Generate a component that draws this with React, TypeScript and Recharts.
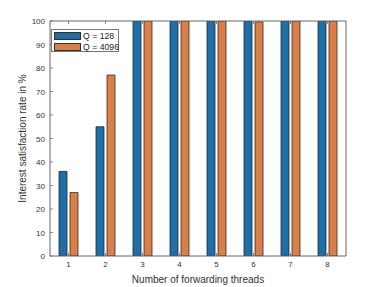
import { BarChart, Bar, XAxis, YAxis, Label } from 'recharts';

const threads = ['1', '2', '3', '4', '5', '6', '7', '8'];
const q128 = [36, 55, 100, 100, 100, 100, 100, 100];
const q4096 = [27, 77, 100, 100, 100, 99.6, 100, 100];
const yTicks = [0, 10, 20, 30, 40, 50, 60, 70, 80, 90, 100];
const seriesNames = ['Q = 128', 'Q = 4096'];

const BLUE = '#1f6fa6';
const ORANGE = '#d97f47';
const AXIS = '#666';
const FONT = '"Liberation Sans", Arial, sans-serif';

const data = threads.map((t, i) => ({ name: t, a: q128[i], b: q4096[i] }));

// ticks pointing into the plot, MATLAB style
const LeftTick = (props: any) => {
  const { x, y, payload } = props;
  return (
    <g>
      <line x1={x} y1={y} x2={x + 3} y2={y} stroke={AXIS} strokeWidth={0.8} />
      <text x={x - 5} y={y} dy={3} textAnchor="end" fontSize={8} fill="#333" fontFamily={FONT}>
        {payload.value}
      </text>
    </g>
  );
};

const RightTick = (props: any) => {
  const { x, y } = props;
  return <line x1={x - 3} y1={y} x2={x} y2={y} stroke={AXIS} strokeWidth={0.8} />;
};

const BottomTick = (props: any) => {
  const { x, y, payload } = props;
  return (
    <g>
      <line x1={x} y1={y} x2={x} y2={y - 3} stroke={AXIS} strokeWidth={0.8} />
      <text x={x} y={y + 11} textAnchor="middle" fontSize={8} fill="#333" fontFamily={FONT}>
        {payload.value}
      </text>
    </g>
  );
};

const TopTick = (props: any) => {
  const { x, y } = props;
  return <line x1={x} y1={y} x2={x} y2={y + 3} stroke={AXIS} strokeWidth={0.8} />;
};

const LegendBox = () => (
  <div
    style={{
      position: 'absolute',
      left: 51,
      top: 29,
      width: 68,
      height: 23,
      boxSizing: 'border-box',
      border: '1px solid #777',
      background: '#fff',
      padding: '1px 0 0 2px',
      fontFamily: FONT,
      fontSize: 8.7,
      color: '#222',
      lineHeight: '10.5px',
      whiteSpace: 'nowrap',
    }}
  >
    {seriesNames.map((n, i) => (
      <div key={n} style={{ display: 'flex', alignItems: 'center', height: 10.5 }}>
        <span
          style={{
            display: 'inline-block',
            flex: 'none',
            width: 27,
            height: 8,
            background: i === 0 ? BLUE : ORANGE,
            border: '1px solid #333',
            boxSizing: 'border-box',
            marginRight: 2,
          }}
        />
        <span>{n}</span>
      </div>
    ))}
  </div>
);

export default function App() {
  return (
    <div style={{ position: 'absolute', left: 0, top: 0, width: 382, height: 287, background: '#fff' }}>
      <BarChart
        width={382}
        height={287}
        data={data}
        margin={{ top: 20, right: 35, left: 0, bottom: 0 }}
        barSize={8}
        barGap={3}
      >
        <XAxis
          dataKey="name"
          height={31}
          tickLine={false}
          tickSize={0}
          tickMargin={0}
          tick={<BottomTick />}
          axisLine={{ stroke: AXIS }}
          interval={0}
        >
          <Label
            value="Number of forwarding threads"
            position="insideBottom"
            offset={4}
            style={{ fontSize: 10, fill: '#333', fontFamily: FONT }}
          />
        </XAxis>
        <XAxis
          xAxisId="top"
          dataKey="name"
          orientation="top"
          height={1}
          tickLine={false}
          tickSize={0}
          tickMargin={0}
          tick={<TopTick />}
          axisLine={{ stroke: AXIS }}
          interval={0}
        />
        <YAxis
          width={50}
          domain={[0, 100]}
          ticks={yTicks}
          interval={0}
          tickLine={false}
          tickSize={0}
          tickMargin={0}
          tick={<LeftTick />}
          axisLine={{ stroke: AXIS }}
          allowDataOverflow
        >
          <Label
            value="Interest satisfaction rate in %"
            angle={-90}
            position="insideLeft"
            offset={22}
            style={{ textAnchor: 'middle', fontSize: 10, fill: '#333', fontFamily: FONT }}
          />
        </YAxis>
        <YAxis
          yAxisId="right"
          orientation="right"
          width={1}
          domain={[0, 100]}
          ticks={yTicks}
          interval={0}
          tickLine={false}
          tickSize={0}
          tickMargin={0}
          tick={<RightTick />}
          axisLine={{ stroke: AXIS }}
        />
        <Bar dataKey="a" name={seriesNames[0]} fill={BLUE} stroke="#1a2a3a" strokeWidth={0.8} isAnimationActive={false} />
        <Bar dataKey="b" name={seriesNames[1]} fill={ORANGE} stroke="#3a2a20" strokeWidth={0.8} isAnimationActive={false} />
      </BarChart>
      <LegendBox />
    </div>
  );
}
